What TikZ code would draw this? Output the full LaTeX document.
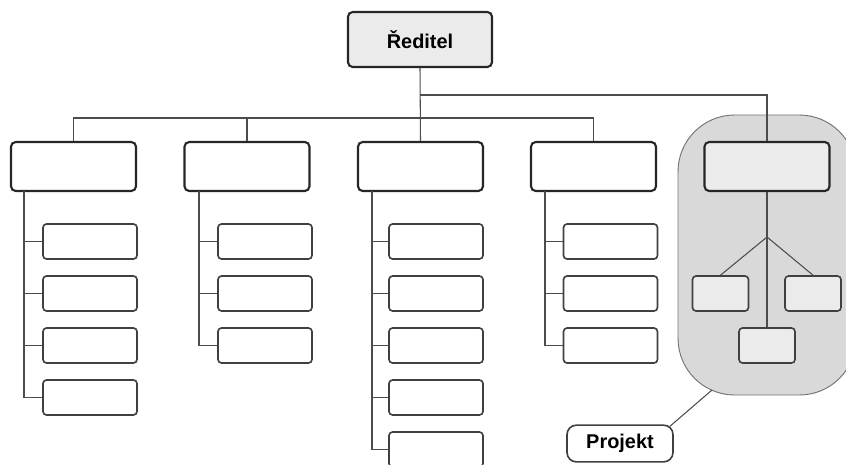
\documentclass[tikz,border=0pt]{standalone}
\usepackage{fontspec}
\setmainfont{Liberation Sans}
\begin{document}
\begin{tikzpicture}[x=0.03cm,y=-0.03cm,
    boxhead/.style={draw=black!85,line width=1.8pt,rounded corners=4pt,fill=r235g235b235,
        minimum width=3.75cm,minimum height=1.47cm,inner sep=0pt},
    boxkid/.style={draw=black!75,line width=1.4pt,rounded corners=3pt,fill=white,
        minimum width=2.82cm,minimum height=1.05cm,inner sep=0pt},
    boxsmall/.style={boxkid,fill=r235g235b235,minimum width=1.68cm},
    link/.style={draw=black!70,line width=0.9pt}]
                    \useasboundingbox (0,0) rectangle (846,464);
                    {\fontsize{17pt}{20pt}\selectfont\bfseries

                    % Changing color 235 235 235
                    \definecolor{r235g235b235}{rgb}{0.921569,0.921569,0.921569}%
                    % Changing color 217 217 217
                    \definecolor{r217g217b217}{rgb}{0.850980,0.850980,0.850980}%

                    % Filling project area
                    \draw [draw=black!55,line width=0.8pt,fill=r217g217b217,rounded corners=1.7cm] (678,115) rectangle (856,395);%
                    \coordinate (area) at (712,390);

                    % Top box
                    \node [boxhead,minimum width=4.32cm,minimum height=1.65cm] (reditel) at (420,39.5) {Ředitel};%

                    % Department boxes
                    \foreach \i/\x in {1/73.5,2/247,3/420.5,4/593.5}
                      \node [boxhead,fill=white] (dept\i) at (\x,166.5) {};%
                    \node [boxhead] (dept5) at (767,166.5) {};%

                    % Sub boxes, columns 1 to 4
                    \foreach \c/\x/\n in {1/90/4,2/265/3,3/436/5,4/610.5/3}
                      \foreach \j in {1,...,\n}
                        \node [boxkid] (k\c-\j) at (\x,189.5+52*\j) {};%

                    % Sub boxes in project area
                    \node [boxsmall] (k5-1) at (720.5,293.5) {};%
                    \node [boxsmall] (k5-2) at (813,293.5) {};%
                    \node [boxsmall] (k5-3) at (767,345.5) {};%

                    % Drawing trunk and branches
                    \coordinate (jR) at (420,95);
                    \coordinate (jL) at (420,118);
                    \draw [link] (reditel.south) -- (dept3.north);%
                    \draw [link] (jR) -| (dept5.north);%
                    \draw [link] (dept1.north) |- (jL) -| (dept4.north);%
                    \draw [link] (dept2.north) -- (dept2.north |- jL);%

                    % Drawing spines
                    \foreach \c/\x/\n in {1/24/4,2/199/3,3/372/5,4/545/3} {
                      \coordinate (sp\c) at (\x,191);
                      \draw [link] (sp\c) |- (k\c-\n.west);%
                      \foreach \j in {1,...,\n}
                        \draw [link] (sp\c |- k\c-\j.west) -- (k\c-\j.west);%
                    }

                    % Drawing lines in project area
                    \coordinate (fork) at (767,237);
                    \draw [link] (dept5.south) -- (k5-3.north);%
                    \draw [link] (k5-1.north) -- (fork) -- (k5-2.north);%

                    % Project label
                    \node [draw=black!75,line width=1.4pt,rounded corners=8pt,fill=white,
                           minimum width=3.18cm,minimum height=1.1cm,inner sep=0pt] (projekt) at (620,443.5) {Projekt};%
                    \draw [link] (projekt.north east) ++(-4,2) -- (area);%
                    }
\end{tikzpicture}
\end{document}
